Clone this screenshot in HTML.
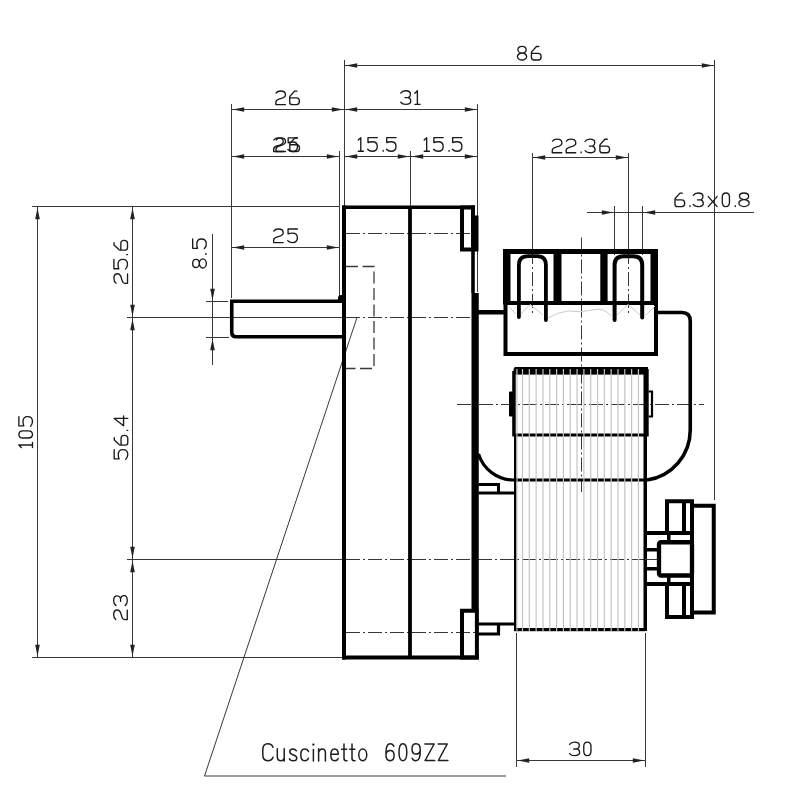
<!DOCTYPE html>
<html><head><meta charset="utf-8"><style>
html,body{margin:0;padding:0;background:#fff;width:800px;height:800px;overflow:hidden}
svg{display:block}
</style></head><body>
<svg width="800" height="800" viewBox="0 0 800 800">
<rect width="800" height="800" fill="#fff"/>
<line x1="344.5" y1="60" x2="344.5" y2="206" stroke="#383838" stroke-width="1" />
<line x1="714.5" y1="60" x2="714.5" y2="500" stroke="#383838" stroke-width="1" />
<line x1="344.5" y1="65.5" x2="714.5" y2="65.5" stroke="#383838" stroke-width="1" />
<polygon points="345.7,65.5 357.2,63.2 357.2,67.8" fill="#222"/>
<polygon points="713.3,65.5 701.8,63.2 701.8,67.8" fill="#222"/>
<line x1="231.5" y1="104" x2="231.5" y2="298" stroke="#383838" stroke-width="1" />
<line x1="477.5" y1="104" x2="477.5" y2="292" stroke="#383838" stroke-width="1" />
<line x1="231.5" y1="109.5" x2="344.5" y2="109.5" stroke="#383838" stroke-width="1" />
<polygon points="232.7,109.5 244.2,107.2 244.2,111.8" fill="#222"/>
<polygon points="343.3,109.5 331.8,107.2 331.8,111.8" fill="#222"/>
<line x1="344.5" y1="109.5" x2="477.5" y2="109.5" stroke="#383838" stroke-width="1" />
<polygon points="345.7,109.5 357.2,107.2 357.2,111.8" fill="#222"/>
<polygon points="476.3,109.5 464.8,107.2 464.8,111.8" fill="#222"/>
<line x1="339.5" y1="151" x2="339.5" y2="296" stroke="#383838" stroke-width="1" />
<line x1="410.5" y1="151" x2="410.5" y2="206" stroke="#383838" stroke-width="1" />
<line x1="231.5" y1="156.5" x2="339.5" y2="156.5" stroke="#383838" stroke-width="1" />
<polygon points="232.7,156.5 244.2,154.2 244.2,158.8" fill="#222"/>
<polygon points="338.3,156.5 326.8,154.2 326.8,158.8" fill="#222"/>
<line x1="344.5" y1="156.5" x2="410.5" y2="156.5" stroke="#383838" stroke-width="1" />
<polygon points="345.7,156.5 357.2,154.2 357.2,158.8" fill="#222"/>
<polygon points="409.3,156.5 397.8,154.2 397.8,158.8" fill="#222"/>
<line x1="410.5" y1="156.5" x2="477.5" y2="156.5" stroke="#383838" stroke-width="1" />
<polygon points="411.7,156.5 423.2,154.2 423.2,158.8" fill="#222"/>
<polygon points="476.3,156.5 464.8,154.2 464.8,158.8" fill="#222"/>
<line x1="231.5" y1="247.5" x2="339.5" y2="247.5" stroke="#383838" stroke-width="1" />
<polygon points="232.7,247.5 244.2,245.2 244.2,249.8" fill="#222"/>
<polygon points="338.3,247.5 326.8,245.2 326.8,249.8" fill="#222"/>
<line x1="532.5" y1="153" x2="532.5" y2="250" stroke="#383838" stroke-width="1" />
<line x1="628.5" y1="153" x2="628.5" y2="250" stroke="#383838" stroke-width="1" />
<line x1="532.5" y1="157.5" x2="628.5" y2="157.5" stroke="#383838" stroke-width="1" />
<polygon points="533.7,157.5 545.2,155.2 545.2,159.8" fill="#222"/>
<polygon points="627.3,157.5 615.8,155.2 615.8,159.8" fill="#222"/>
<line x1="614.5" y1="206" x2="614.5" y2="255" stroke="#383838" stroke-width="1" />
<line x1="642.5" y1="206" x2="642.5" y2="255" stroke="#383838" stroke-width="1" />
<line x1="587" y1="212.5" x2="754" y2="212.5" stroke="#383838" stroke-width="1" />
<polygon points="613.3,212.5 601.8,210.2 601.8,214.8" fill="#222"/>
<polygon points="643.7,212.5 655.2,210.2 655.2,214.8" fill="#222"/>
<line x1="32" y1="206.5" x2="340" y2="206.5" stroke="#383838" stroke-width="1" />
<line x1="32" y1="657.5" x2="343" y2="657.5" stroke="#383838" stroke-width="1" />
<line x1="37.5" y1="206.5" x2="37.5" y2="657.5" stroke="#383838" stroke-width="1" />
<polygon points="37.5,207.7 35.2,219.2 39.8,219.2" fill="#222"/>
<polygon points="37.5,656.3 35.2,644.8 39.8,644.8" fill="#222"/>
<line x1="132.5" y1="206.5" x2="132.5" y2="317.5" stroke="#383838" stroke-width="1" />
<polygon points="132.5,207.7 130.2,219.2 134.8,219.2" fill="#222"/>
<polygon points="132.5,316.3 130.2,304.8 134.8,304.8" fill="#222"/>
<line x1="132.5" y1="317.5" x2="132.5" y2="559.5" stroke="#383838" stroke-width="1" />
<polygon points="132.5,318.7 130.2,330.2 134.8,330.2" fill="#222"/>
<polygon points="132.5,558.3 130.2,546.8 134.8,546.8" fill="#222"/>
<line x1="132.5" y1="559.5" x2="132.5" y2="657.5" stroke="#383838" stroke-width="1" />
<polygon points="132.5,560.7 130.2,572.2 134.8,572.2" fill="#222"/>
<polygon points="132.5,656.3 130.2,644.8 134.8,644.8" fill="#222"/>
<line x1="127" y1="317.5" x2="345" y2="317.5" stroke="#383838" stroke-width="1" />
<line x1="127" y1="559.5" x2="343" y2="559.5" stroke="#383838" stroke-width="1" />
<line x1="206" y1="301.5" x2="228" y2="301.5" stroke="#383838" stroke-width="1" />
<line x1="206" y1="337.5" x2="229" y2="337.5" stroke="#383838" stroke-width="1" />
<line x1="212.5" y1="234" x2="212.5" y2="365" stroke="#383838" stroke-width="1" />
<polygon points="212.5,300.3 210.2,288.8 214.8,288.8" fill="#222"/>
<polygon points="212.5,338.7 210.2,350.2 214.8,350.2" fill="#222"/>
<line x1="516.5" y1="633" x2="516.5" y2="767" stroke="#383838" stroke-width="1" />
<line x1="645.5" y1="633" x2="645.5" y2="767" stroke="#383838" stroke-width="1" />
<line x1="516.5" y1="760.5" x2="645.5" y2="760.5" stroke="#383838" stroke-width="1" />
<polygon points="517.7,760.5 529.2,758.2 529.2,762.8" fill="#222"/>
<polygon points="644.3,760.5 632.8,758.2 632.8,762.8" fill="#222"/>
<line x1="357" y1="317.5" x2="204.5" y2="776" stroke="#383838" stroke-width="1" />
<line x1="204.5" y1="776" x2="506" y2="776" stroke="#383838" stroke-width="1" />
<line x1="346" y1="233.5" x2="478" y2="233.5" stroke="#383838" stroke-width="1" stroke-dasharray="14 3 2 3"/>
<line x1="346" y1="317.5" x2="470" y2="317.5" stroke="#383838" stroke-width="1" stroke-dasharray="14 3 2 3"/>
<line x1="346" y1="559.5" x2="657" y2="559.5" stroke="#383838" stroke-width="1" stroke-dasharray="14 3 2 3"/>
<line x1="346" y1="632.5" x2="478" y2="632.5" stroke="#383838" stroke-width="1" stroke-dasharray="14 3 2 3"/>
<line x1="457" y1="404.5" x2="704" y2="404.5" stroke="#383838" stroke-width="1" stroke-dasharray="14 3 2 3"/>
<line x1="581.5" y1="237.5" x2="581.5" y2="492" stroke="#383838" stroke-width="1" stroke-dasharray="14 3 2 3"/>
<line x1="532.5" y1="250" x2="532.5" y2="316" stroke="#383838" stroke-width="1" stroke-dasharray="14 3 2 3"/>
<line x1="628.5" y1="250" x2="628.5" y2="316" stroke="#383838" stroke-width="1" stroke-dasharray="14 3 2 3"/>
<path d="M346 266.5 H374 V368.5 H346" fill="none" stroke="#3a3a3a" stroke-width="1.3" stroke-dasharray="12 4.5"/>
<line x1="342" y1="207.25" x2="475" y2="207.25" stroke="#000" stroke-width="3.6"/>
<line x1="344" y1="205.5" x2="344" y2="659.4" stroke="#000" stroke-width="4"/>
<line x1="342" y1="657.5" x2="478.75" y2="657.5" stroke="#000" stroke-width="3.8"/>
<line x1="410" y1="207" x2="410" y2="659" stroke="#000" stroke-width="3.8"/>
<line x1="473" y1="205.5" x2="473" y2="293" stroke="#000" stroke-width="3.6"/>
<rect x="471.5" y="293" width="7.25" height="316" fill="#000"/>
<rect x="462" y="207.5" width="11" height="42" fill="none" stroke="#000" stroke-width="4"/>
<rect x="475" y="215.5" width="3.5" height="36" fill="#000"/>
<rect x="462" y="610.75" width="14.9" height="46.8" fill="none" stroke="#000" stroke-width="4"/>
<path d="M342 301.25 H231.75 V332.5 Q231.75 336.75 236 336.75 H342" fill="none" stroke="#000" stroke-width="3.6"/>
<path d="M338 303 L338 298 Q338 295 341 295 L345 295 L345 303 Z" fill="#000"/>
<line x1="478" y1="312.25" x2="504" y2="312.25" stroke="#000" stroke-width="4.5"/>
<path d="M478.5 484.5 H498.5 V493 M478.5 493 H514" fill="none" stroke="#000" stroke-width="3"/>
<path d="M478.5 624 H514 M498.5 624 V634 H478.5" fill="none" stroke="#000" stroke-width="3.2"/>
<path d="M478.5 454 A37 37 0 0 0 514 480" fill="none" stroke="#000" stroke-width="3.2"/>
<path d="M656 312.5 H682 Q690.25 312.5 690.25 321 V430 A50.5 50.5 0 0 1 647 480" fill="none" stroke="#000" stroke-width="3.6"/>
<rect x="505.5" y="251.5" width="150.5" height="102.5" fill="none" stroke="#000" stroke-width="4"/>
<rect x="503" y="249" width="155" height="5" fill="#000"/>
<rect x="503" y="249.5" width="7.5" height="55" fill="#000"/>
<rect x="650.5" y="249.5" width="7.5" height="55" fill="#000"/>
<line x1="507" y1="303" x2="658" y2="303" stroke="#000" stroke-width="3.8"/>
<rect x="553.5" y="249.5" width="8" height="55" fill="#000"/>
<rect x="600.3" y="249.5" width="7.3" height="55" fill="#000"/>
<path d="M519 317 V262 Q519 256.2 525 256.2 H540 Q546 256.2 546 262 V320" fill="none" stroke="#fff" stroke-width="0"/>
<path d="M518.9 317 V265 Q518.9 256.2 528 256.2 H537 Q545.9 256.2 545.9 265 V320" fill="none" stroke="#000" stroke-width="3.8" stroke-linecap="round"/>
<path d="M614.6 320 V265 Q614.6 256.2 623.5 256.2 H633.3 Q642.2 256.2 642.2 265 V317.5" fill="none" stroke="#000" stroke-width="4" stroke-linecap="round"/>
<path d="M509 307 L516 314 M521 314 L530 304.5 L543 315 M548 318 Q558 312 568 311 Q581 313 592 310 Q604 307 611 316 M617 315 L628 304.5 L640 315 M646 315 L655 306" fill="none" stroke="#ccc" stroke-width="1"/>
<rect x="514.5" y="367" width="133.5" height="7.6" fill="#000"/>
<rect x="513.6" y="368.3" width="2" height="3" fill="#000"/>
<rect x="514" y="433.5" width="131" height="3" fill="#000"/>
<rect x="514" y="478.5" width="131" height="3" fill="#000"/>
<rect x="514" y="628" width="131" height="3.2" fill="#000"/>
<g stroke="#c4c4c4" stroke-width="1.2"><line x1="522.50" y1="369" x2="522.50" y2="631" /><line x1="529.32" y1="369" x2="529.32" y2="631" /><line x1="536.14" y1="369" x2="536.14" y2="631" /><line x1="542.96" y1="369" x2="542.96" y2="631" /><line x1="549.78" y1="369" x2="549.78" y2="631" /><line x1="556.60" y1="369" x2="556.60" y2="631" /><line x1="563.42" y1="369" x2="563.42" y2="631" /><line x1="570.24" y1="369" x2="570.24" y2="631" /><line x1="577.06" y1="369" x2="577.06" y2="631" /><line x1="583.88" y1="369" x2="583.88" y2="631" /><line x1="590.70" y1="369" x2="590.70" y2="631" /><line x1="597.52" y1="369" x2="597.52" y2="631" /><line x1="604.34" y1="369" x2="604.34" y2="631" /><line x1="611.16" y1="369" x2="611.16" y2="631" /><line x1="617.98" y1="369" x2="617.98" y2="631" /><line x1="624.80" y1="369" x2="624.80" y2="631" /><line x1="631.62" y1="369" x2="631.62" y2="631" /><line x1="638.44" y1="369" x2="638.44" y2="631" /><line x1="516.9" y1="369" x2="516.9" y2="631"/></g>
<rect x="512.2" y="371" width="3.5" height="65.5" fill="#000"/>
<rect x="514" y="436" width="2.2" height="195" fill="#000"/>
<rect x="643.5" y="369" width="5.2" height="67.5" fill="#000"/>
<rect x="643.5" y="436" width="3.5" height="195" fill="#000"/>
<rect x="509" y="391.5" width="4" height="25" rx="1" fill="#000"/>
<path d="M648.5 391.5 H652 V416.5 H648.5" fill="none" stroke="#000" stroke-width="2.2"/>
<path d="M667 533 V501.25 H692 V533" fill="none" stroke="#000" stroke-width="4"/>
<line x1="647" y1="533" x2="694" y2="533" stroke="#000" stroke-width="4"/>
<line x1="684" y1="503" x2="684" y2="533" stroke="#000" stroke-width="4"/>
<line x1="668.75" y1="535" x2="668.75" y2="541" stroke="#000" stroke-width="3.5"/>
<rect x="659" y="542.25" width="33" height="33.25" rx="2" fill="none" stroke="#000" stroke-width="4.3"/>
<line x1="647" y1="549.75" x2="657" y2="549.75" stroke="#000" stroke-width="3.5"/>
<line x1="647" y1="568.75" x2="657" y2="568.75" stroke="#000" stroke-width="3.5"/>
<line x1="645" y1="559.5" x2="657" y2="559.5" stroke="#383838" stroke-width="1" />
<line x1="668.75" y1="577" x2="668.75" y2="583" stroke="#000" stroke-width="3.5"/>
<line x1="647" y1="584" x2="694" y2="584" stroke="#000" stroke-width="4"/>
<path d="M667 584 V617 H692 V584" fill="none" stroke="#000" stroke-width="4"/>
<line x1="684" y1="586" x2="684" y2="615" stroke="#000" stroke-width="4"/>
<path d="M692 505.75 H713.75 V612.5 H692" fill="none" stroke="#000" stroke-width="4"/>
<line x1="692" y1="501" x2="692" y2="619" stroke="#000" stroke-width="4"/>
<g fill="none" stroke="#1a1a1a" stroke-width="1.35" stroke-linecap="round" stroke-linejoin="round">
<path transform="translate(517.42 46.42)" d="M4.6 6.6 C2.3 6.6 0.5 5.2 0.5 3.3 C0.5 1.4 2.3 0 4.6 0 C6.9 0 8.7 1.4 8.7 3.3 C8.7 5.2 6.9 6.6 4.6 6.6 Z M4.6 6.6 C2 6.6 0 8.3 0 10.1 C0 12 2 13.6 4.6 13.6 C7.2 13.6 9.2 12 9.2 10.1 C9.2 8.3 7.2 6.6 4.6 6.6 Z"/>
<path transform="translate(531.42 46.42)" d="M7.4 0.1 H5 L0.4 5.2 C0.1 5.6 0 6 0 6.6 V11.2 C0 12.7 1 13.6 2.6 13.6 H6.8 C8.6 13.6 9.7 12.3 9.7 10.3 C9.7 8.3 8.6 6.9 6.7 6.9 H0.2"/>
<path transform="translate(275.88 90.97)" d="M0.2 2.1 C1 0.7 2.6 0 4.8 0 C7.6 0 9.6 1.5 9.6 3.7 C9.6 5.6 8 6.7 5.5 7.4 L3 8.1 C1 8.7 0 9.8 0 11.3 V13.6 H9.5"/>
<path transform="translate(289.68 90.97)" d="M7.4 0.1 H5 L0.4 5.2 C0.1 5.6 0 6 0 6.6 V11.2 C0 12.7 1 13.6 2.6 13.6 H6.8 C8.6 13.6 9.7 12.3 9.7 10.3 C9.7 8.3 8.6 6.9 6.7 6.9 H0.2"/>
<path transform="translate(400.78 90.77)" d="M0 2.3 C0.9 0.9 2.6 0 4.9 0 C7.8 0 9.7 1.5 9.7 3.5 C9.7 5.2 8.9 6.3 7.4 6.9 C9.1 7.4 10 8.8 10 10.5 C10 12.5 8 13.6 4.9 13.6 C2.8 13.6 1 12.8 0 11.5 M4.2 6.9 H7.4"/>
<path transform="translate(414.88 90.77)" d="M0 2.4 L2.5 0 V13.6 M0 13.6 H5.2"/>
<path transform="translate(273.68 137.88)" d="M0.2 2.1 C1 0.7 2.6 0 4.8 0 C7.6 0 9.6 1.5 9.6 3.7 C9.6 5.6 8 6.7 5.5 7.4 L3 8.1 C1 8.7 0 9.8 0 11.3 V13.6 H9.5"/>
<path transform="translate(287.88 137.88)" d="M9.6 0 H0.3 V4.9 C1.3 4.4 3 4.1 4.7 4.1 C7.6 4.1 9.6 6 9.6 8.8 C9.6 11.6 7.6 13.6 4.7 13.6 C2.6 13.6 1 12.8 0 11.6"/>
<path transform="translate(275.98 137.88)" d="M0.2 2.1 C1 0.7 2.6 0 4.8 0 C7.6 0 9.6 1.5 9.6 3.7 C9.6 5.6 8 6.7 5.5 7.4 L3 8.1 C1 8.7 0 9.8 0 11.3 V13.6 H9.5"/>
<path transform="translate(289.78 137.88)" d="M7.4 0.1 H5 L0.4 5.2 C0.1 5.6 0 6 0 6.6 V11.2 C0 12.7 1 13.6 2.6 13.6 H6.8 C8.6 13.6 9.7 12.3 9.7 10.3 C9.7 8.3 8.6 6.9 6.7 6.9 H0.2"/>
<path transform="translate(358.28 137.68)" d="M0 2.4 L2.5 0 V13.6 M0 13.6 H5.2"/>
<path transform="translate(367.68 137.68)" d="M9.6 0 H0.3 V4.9 C1.3 4.4 3 4.1 4.7 4.1 C7.6 4.1 9.6 6 9.6 8.8 C9.6 11.6 7.6 13.6 4.7 13.6 C2.6 13.6 1 12.8 0 11.6"/>
<path transform="translate(382.68 137.68)" d="M0.5 12.8 V13.6"/>
<path transform="translate(386.43 137.68)" d="M9.6 0 H0.3 V4.9 C1.3 4.4 3 4.1 4.7 4.1 C7.6 4.1 9.6 6 9.6 8.8 C9.6 11.6 7.6 13.6 4.7 13.6 C2.6 13.6 1 12.8 0 11.6"/>
<path transform="translate(424.18 137.68)" d="M0 2.4 L2.5 0 V13.6 M0 13.6 H5.2"/>
<path transform="translate(433.57 137.68)" d="M9.6 0 H0.3 V4.9 C1.3 4.4 3 4.1 4.7 4.1 C7.6 4.1 9.6 6 9.6 8.8 C9.6 11.6 7.6 13.6 4.7 13.6 C2.6 13.6 1 12.8 0 11.6"/>
<path transform="translate(448.57 137.68)" d="M0.5 12.8 V13.6"/>
<path transform="translate(452.32 137.68)" d="M9.6 0 H0.3 V4.9 C1.3 4.4 3 4.1 4.7 4.1 C7.6 4.1 9.6 6 9.6 8.8 C9.6 11.6 7.6 13.6 4.7 13.6 C2.6 13.6 1 12.8 0 11.6"/>
<path transform="translate(273.62 228.98)" d="M0.2 2.1 C1 0.7 2.6 0 4.8 0 C7.6 0 9.6 1.5 9.6 3.7 C9.6 5.6 8 6.7 5.5 7.4 L3 8.1 C1 8.7 0 9.8 0 11.3 V13.6 H9.5"/>
<path transform="translate(287.78 228.98)" d="M9.6 0 H0.3 V4.9 C1.3 4.4 3 4.1 4.7 4.1 C7.6 4.1 9.6 6 9.6 8.8 C9.6 11.6 7.6 13.6 4.7 13.6 C2.6 13.6 1 12.8 0 11.6"/>
<path transform="translate(552.27 139.18)" d="M0.2 2.1 C1 0.7 2.6 0 4.8 0 C7.6 0 9.6 1.5 9.6 3.7 C9.6 5.6 8 6.7 5.5 7.4 L3 8.1 C1 8.7 0 9.8 0 11.3 V13.6 H9.5"/>
<path transform="translate(566.17 139.18)" d="M0.2 2.1 C1 0.7 2.6 0 4.8 0 C7.6 0 9.6 1.5 9.6 3.7 C9.6 5.6 8 6.7 5.5 7.4 L3 8.1 C1 8.7 0 9.8 0 11.3 V13.6 H9.5"/>
<path transform="translate(580.67 139.18)" d="M0.5 12.8 V13.6"/>
<path transform="translate(585.07 139.18)" d="M0 2.3 C0.9 0.9 2.6 0 4.9 0 C7.8 0 9.7 1.5 9.7 3.5 C9.7 5.2 8.9 6.3 7.4 6.9 C9.1 7.4 10 8.8 10 10.5 C10 12.5 8 13.6 4.9 13.6 C2.8 13.6 1 12.8 0 11.5 M4.2 6.9 H7.4"/>
<path transform="translate(599.88 139.18)" d="M7.4 0.1 H5 L0.4 5.2 C0.1 5.6 0 6 0 6.6 V11.2 C0 12.7 1 13.6 2.6 13.6 H6.8 C8.6 13.6 9.7 12.3 9.7 10.3 C9.7 8.3 8.6 6.9 6.7 6.9 H0.2"/>
<path transform="translate(674.97 192.98)" d="M7.4 0.1 H5 L0.4 5.2 C0.1 5.6 0 6 0 6.6 V11.2 C0 12.7 1 13.6 2.6 13.6 H6.8 C8.6 13.6 9.7 12.3 9.7 10.3 C9.7 8.3 8.6 6.9 6.7 6.9 H0.2"/>
<path transform="translate(689.47 192.98)" d="M0.5 12.8 V13.6"/>
<path transform="translate(693.27 192.98)" d="M0 2.3 C0.9 0.9 2.6 0 4.9 0 C7.8 0 9.7 1.5 9.7 3.5 C9.7 5.2 8.9 6.3 7.4 6.9 C9.1 7.4 10 8.8 10 10.5 C10 12.5 8 13.6 4.9 13.6 C2.8 13.6 1 12.8 0 11.5 M4.2 6.9 H7.4"/>
<path transform="translate(708.27 192.98)" d="M0 3.6 L8.8 13.6 M8.8 3.6 L0 13.6"/>
<path transform="translate(722.27 192.98)" d="M3.6 0 C5.9 0 7.2 1.9 7.2 4.3 V9.3 C7.2 11.7 5.9 13.6 3.6 13.6 C1.3 13.6 0 11.7 0 9.3 V4.3 C0 1.9 1.3 0 3.6 0 Z"/>
<path transform="translate(734.67 192.98)" d="M0.5 12.8 V13.6"/>
<path transform="translate(738.88 192.98) scale(1.12 1)" d="M4.6 6.6 C2.3 6.6 0.5 5.2 0.5 3.3 C0.5 1.4 2.3 0 4.6 0 C6.9 0 8.7 1.4 8.7 3.3 C8.7 5.2 6.9 6.6 4.6 6.6 Z M4.6 6.6 C2 6.6 0 8.3 0 10.1 C0 12 2 13.6 4.6 13.6 C7.2 13.6 9.2 12 9.2 10.1 C9.2 8.3 7.2 6.6 4.6 6.6 Z" vector-effect="non-scaling-stroke"/>
<path transform="translate(569.62 742.07)" d="M0 2.3 C0.9 0.9 2.6 0 4.9 0 C7.8 0 9.7 1.5 9.7 3.5 C9.7 5.2 8.9 6.3 7.4 6.9 C9.1 7.4 10 8.8 10 10.5 C10 12.5 8 13.6 4.9 13.6 C2.8 13.6 1 12.8 0 11.5 M4.2 6.9 H7.4"/>
<path transform="translate(583.77 742.07)" d="M3.6 0 C5.9 0 7.2 1.9 7.2 4.3 V9.3 C7.2 11.7 5.9 13.6 3.6 13.6 C1.3 13.6 0 11.7 0 9.3 V4.3 C0 1.9 1.3 0 3.6 0 Z"/>
<path transform="matrix(0 -1 1 0 18.88 447.52)" d="M0 2.4 L2.5 0 V13.6 M0 13.6 H5.2"/>
<path transform="matrix(0 -1 1 0 18.88 438.02)" d="M3.6 0 C5.9 0 7.2 1.9 7.2 4.3 V9.3 C7.2 11.7 5.9 13.6 3.6 13.6 C1.3 13.6 0 11.7 0 9.3 V4.3 C0 1.9 1.3 0 3.6 0 Z"/>
<path transform="matrix(0 -1 1 0 18.88 426.22)" d="M9.6 0 H0.3 V4.9 C1.3 4.4 3 4.1 4.7 4.1 C7.6 4.1 9.6 6 9.6 8.8 C9.6 11.6 7.6 13.6 4.7 13.6 C2.6 13.6 1 12.8 0 11.6"/>
<path transform="matrix(0 -1 1 0 114.17 459.22)" d="M9.6 0 H0.3 V4.9 C1.3 4.4 3 4.1 4.7 4.1 C7.6 4.1 9.6 6 9.6 8.8 C9.6 11.6 7.6 13.6 4.7 13.6 C2.6 13.6 1 12.8 0 11.6"/>
<path transform="matrix(0 -1 1 0 114.17 445.12)" d="M7.4 0.1 H5 L0.4 5.2 C0.1 5.6 0 6 0 6.6 V11.2 C0 12.7 1 13.6 2.6 13.6 H6.8 C8.6 13.6 9.7 12.3 9.7 10.3 C9.7 8.3 8.6 6.9 6.7 6.9 H0.2"/>
<path transform="matrix(0 -1 1 0 114.17 430.82)" d="M0.5 12.8 V13.6"/>
<path transform="matrix(0 -1 1 0 114.17 425.82)" d="M7.4 13.6 V0 L0 9.4 H9.8"/>
<path transform="matrix(0 -1 1 0 113.92 283.32)" d="M0.2 2.1 C1 0.7 2.6 0 4.8 0 C7.6 0 9.6 1.5 9.6 3.7 C9.6 5.6 8 6.7 5.5 7.4 L3 8.1 C1 8.7 0 9.8 0 11.3 V13.6 H9.5"/>
<path transform="matrix(0 -1 1 0 113.92 269.02)" d="M9.6 0 H0.3 V4.9 C1.3 4.4 3 4.1 4.7 4.1 C7.6 4.1 9.6 6 9.6 8.8 C9.6 11.6 7.6 13.6 4.7 13.6 C2.6 13.6 1 12.8 0 11.6"/>
<path transform="matrix(0 -1 1 0 113.92 255.12)" d="M0.5 12.8 V13.6"/>
<path transform="matrix(0 -1 1 0 113.92 250.12)" d="M7.4 0.1 H5 L0.4 5.2 C0.1 5.6 0 6 0 6.6 V11.2 C0 12.7 1 13.6 2.6 13.6 H6.8 C8.6 13.6 9.7 12.3 9.7 10.3 C9.7 8.3 8.6 6.9 6.7 6.9 H0.2"/>
<path transform="matrix(0 -1 1 0 113.67 619.62)" d="M0.2 2.1 C1 0.7 2.6 0 4.8 0 C7.6 0 9.6 1.5 9.6 3.7 C9.6 5.6 8 6.7 5.5 7.4 L3 8.1 C1 8.7 0 9.8 0 11.3 V13.6 H9.5"/>
<path transform="matrix(0 -1 1 0 113.67 605.62)" d="M0 2.3 C0.9 0.9 2.6 0 4.9 0 C7.8 0 9.7 1.5 9.7 3.5 C9.7 5.2 8.9 6.3 7.4 6.9 C9.1 7.4 10 8.8 10 10.5 C10 12.5 8 13.6 4.9 13.6 C2.8 13.6 1 12.8 0 11.5 M4.2 6.9 H7.4"/>
<path transform="matrix(0 -1 1 0 192.68 268.02)" d="M4.6 6.6 C2.3 6.6 0.5 5.2 0.5 3.3 C0.5 1.4 2.3 0 4.6 0 C6.9 0 8.7 1.4 8.7 3.3 C8.7 5.2 6.9 6.6 4.6 6.6 Z M4.6 6.6 C2 6.6 0 8.3 0 10.1 C0 12 2 13.6 4.6 13.6 C7.2 13.6 9.2 12 9.2 10.1 C9.2 8.3 7.2 6.6 4.6 6.6 Z"/>
<path transform="matrix(0 -1 1 0 192.68 254.52)" d="M0.5 12.8 V13.6"/>
<path transform="matrix(0 -1 1 0 192.68 248.62)" d="M9.6 0 H0.3 V4.9 C1.3 4.4 3 4.1 4.7 4.1 C7.6 4.1 9.6 6 9.6 8.8 C9.6 11.6 7.6 13.6 4.7 13.6 C2.6 13.6 1 12.8 0 11.6"/>
</g>
<g fill="none" stroke="#1e1e1e" stroke-width="1.5" stroke-linecap="round" stroke-linejoin="round">
<path d="M273 747.3 C272.2 745 270.2 743.8 267.8 743.8 C264.6 743.8 262.8 746.5 262.8 750 V754.5 C262.8 758 264.6 760.7 267.8 760.7 C270.2 760.7 272.2 759.5 273 757.2"/>
<path d="M277.3 748.8 V756.5 C277.3 759.2 278.8 760.7 280.9 760.7 C282.8 760.7 284.2 759.2 284.2 757 M284.2 748.8 V760.9"/>
<path d="M296.4 750.8 C295.6 749.6 294.5 748.9 293.1 748.9 C291.1 748.9 289.8 750.1 289.8 751.7 C289.8 753.3 291 754.1 293 754.7 C295.3 755.4 296.8 756.3 296.8 758 C296.8 759.7 295.2 760.8 293.1 760.8 C291.4 760.8 290 760 289.4 758.8"/>
<path d="M308.5 751.5 C307.8 749.9 306.5 748.9 304.7 748.9 C302 748.9 300.8 751.5 300.8 754.8 C300.8 758.2 302 760.8 304.7 760.8 C306.5 760.8 307.8 759.8 308.5 758.2"/>
<path d="M313.4 749.5 V760.9"/>
<path d="M318.6 748.8 V760.9 M318.6 752.5 C319.2 750.2 320.6 748.9 322.4 748.9 C324.3 748.9 325.4 750.3 325.4 752.8 V760.9"/>
<path d="M330.8 754.3 H338.3 C338.3 751 337 748.9 334.5 748.9 C332 748.9 330.8 751.5 330.8 754.8 C330.8 758.2 332.2 760.8 334.7 760.8 C336.4 760.8 337.6 759.9 338.2 758.6"/>
<path d="M344 744 V758.3 C344 760 344.8 760.8 346.2 760.8 H347 M341.6 749.3 H346.8"/>
<path d="M352 744 V758.3 C352 760 352.8 760.8 354.2 760.8 H355 M349.7 749.3 H354.8"/>
<path d="M362.75 748.95 C365 748.95 366.75 751.5 366.75 754.85 C366.75 758.2 365 760.75 362.75 760.75 C360.5 760.75 358.75 758.2 358.75 754.85 C358.75 751.5 360.5 748.95 362.75 748.95 Z"/>
<path d="M393.8 746.3 C393.2 744.7 392 743.8 390.2 743.8 C387.5 743.8 386 746.8 386 752.5 V755.3 C386 758.8 387.6 760.7 390.1 760.7 C392.6 760.7 394.1 758.8 394.1 755.6 C394.1 752.4 392.6 750.4 390.1 750.4 C388.2 750.4 386.6 751.6 386 753.5"/>
<path d="M402.9 743.8 C405.3 743.8 406.8 747.5 406.8 752.25 C406.8 757 405.3 760.7 402.9 760.7 C400.5 760.7 399 757 399 752.25 C399 747.5 400.5 743.8 402.9 743.8 Z"/>
<path d="M412.2 758.2 C412.8 759.8 414 760.7 415.8 760.7 C418.5 760.7 420.2 757.7 420.2 752 V749.2 C420.2 745.7 418.6 743.8 416.1 743.8 C413.6 743.8 412 745.7 412 748.9 C412 752.1 413.6 754.1 416.1 754.1 C418 754.1 419.6 752.9 420.2 751"/>
<path d="M424.9 744 H434.2 L425.1 760.5 H434.8"/>
<path d="M438.2 744 H447.2 L438.4 760.5 H447.9"/>
<rect x="312.3" y="743.4" width="2.2" height="2.2" rx="0.6" fill="#1e1e1e" stroke="none"/>
</g>
</svg></body></html>
